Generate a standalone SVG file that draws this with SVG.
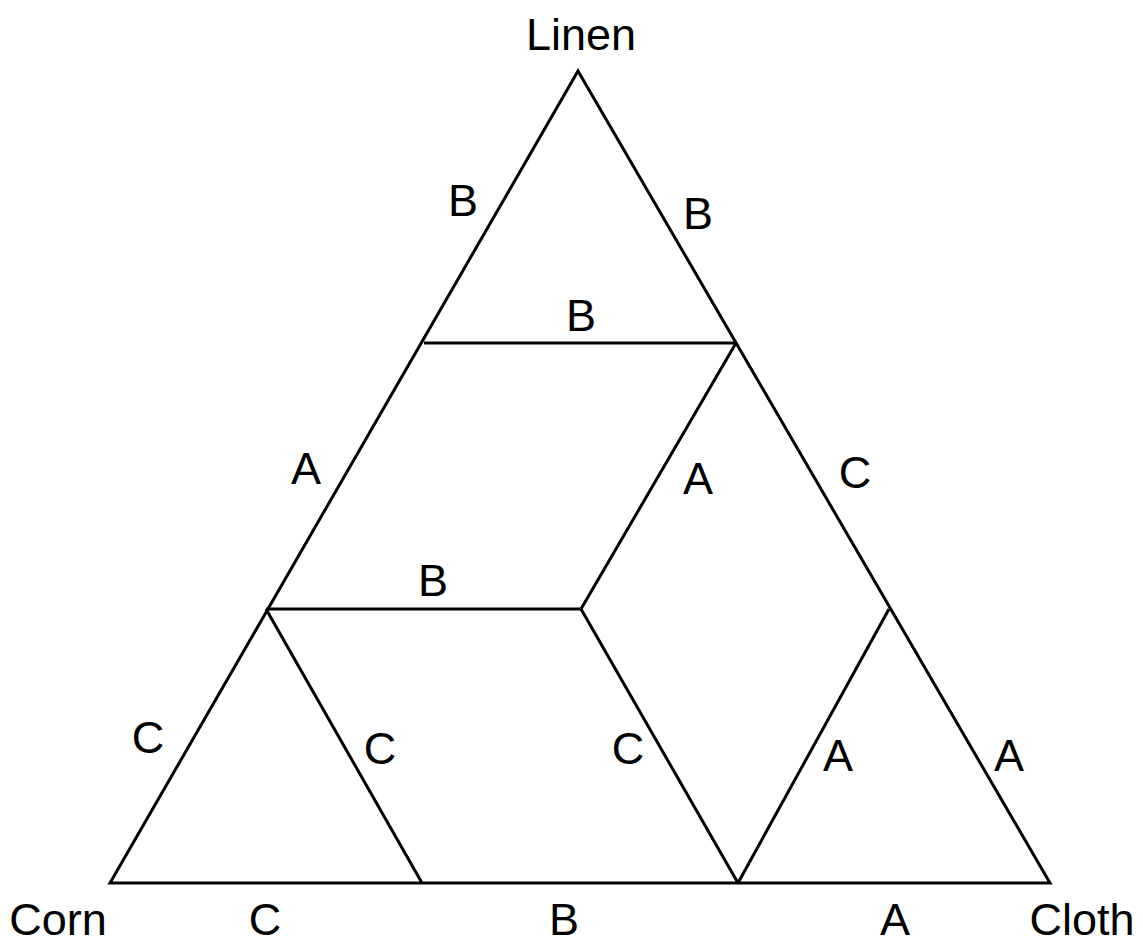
<svg xmlns="http://www.w3.org/2000/svg" width="1143" height="951" viewBox="0 0 1143 951">
<style>
.ln{stroke:#000;stroke-width:3;fill:none;stroke-linejoin:miter;stroke-linecap:butt}
text{font-family:"Liberation Sans",Arial,sans-serif;font-size:45px;fill:#000;text-anchor:middle}
</style>
<rect width="1143" height="951" fill="#fff"/>
<g id="connectors">
<polygon class="ln" points="578,71 110,883 1050,883"/>
<line class="ln" x1="424" y1="343" x2="736" y2="343"/>
<line class="ln" x1="266" y1="609" x2="581" y2="609"/>
<polyline class="ln" points="736,343 581,609 738,883"/>
<line class="ln" x1="266" y1="609" x2="422" y2="883"/>
<line class="ln" x1="889" y1="609" x2="738" y2="883"/>
</g>
<g id="vertex-linen"><text x="581" y="50">Linen</text></g>
<g id="vertex-corn"><text x="58" y="935">Corn</text></g>
<g id="vertex-cloth"><text x="1082" y="935">Cloth</text></g>
<g id="labels">
<text x="463" y="216">B</text>
<text x="698" y="229">B</text>
<text x="581" y="331">B</text>
<text x="306" y="484">A</text>
<text x="698" y="494">A</text>
<text x="855" y="488">C</text>
<text x="433" y="596">B</text>
<text x="148" y="753">C</text>
<text x="380" y="764">C</text>
<text x="628" y="764">C</text>
<text x="838" y="771">A</text>
<text x="1009" y="771">A</text>
<text x="265" y="935">C</text>
<text x="564" y="935">B</text>
<text x="895" y="935">A</text>
</g>
</svg>
